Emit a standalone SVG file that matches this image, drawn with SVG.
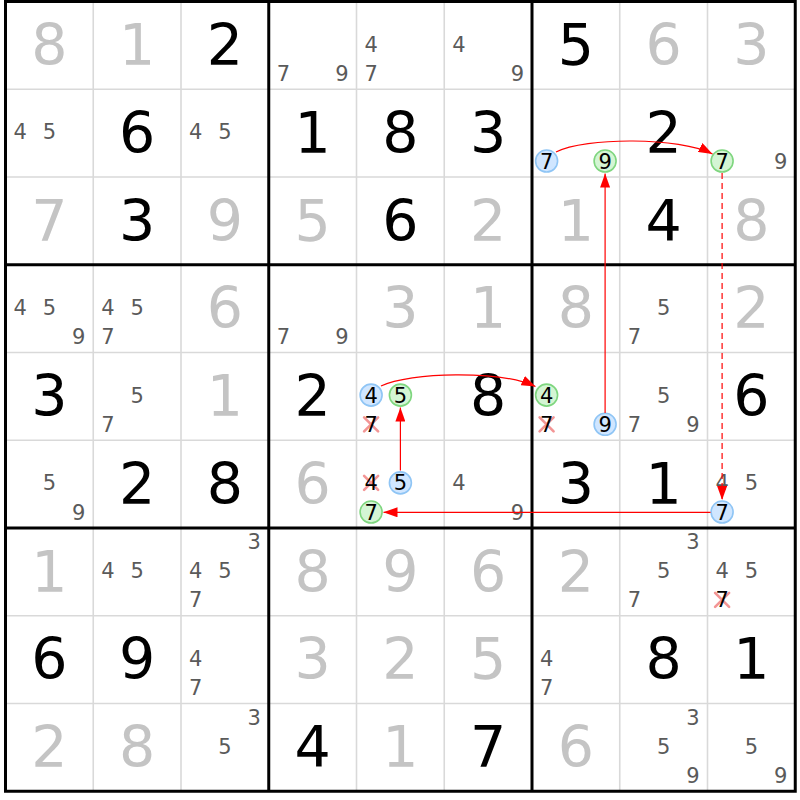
<svg xmlns="http://www.w3.org/2000/svg" width="800" height="800" viewBox="0 0 800 800">
<style>
text{font-family:"DejaVu Sans","Verdana",sans-serif;text-anchor:middle}
.g{font-size:57px;fill:#000}
.s{font-size:57px;fill:#c4c4c4}
.c{font-size:21px;fill:#5a5a5a}
.k{font-size:21px;fill:#000}
.cb{fill:#d0e6ff;stroke:#8fc5f5;stroke-width:1.6}
.cg{fill:#d4f5d4;stroke:#7fd67f;stroke-width:1.6}
.x{stroke:#f28a8a;stroke-width:2.6;stroke-linecap:round;opacity:0.9}
.thin{stroke:#d9d9d9;stroke-width:1.6}
.thick{stroke:#000;stroke-width:3}
.lk{fill:none;stroke:#ff0000;stroke-width:1.2}
.dash{stroke-dasharray:6 4}
</style>
<defs>
<marker id="ah" markerUnits="userSpaceOnUse" markerWidth="14" markerHeight="10" refX="14" refY="5" orient="auto">
<path d="M0,0 L14,5 L0,10 Z" fill="#ff0000"/>
</marker>
<path id="xm" d="M-7,-7 L7,7 M7,-7 L-7,7"/>
</defs>
<rect x="0" y="0" width="800" height="800" fill="#fff"/>
<g id="grid">
<g class="thin">
<line x1="93.25" y1="1.5" x2="93.25" y2="791.25"/>
<line x1="181" y1="1.5" x2="181" y2="791.25"/>
<line x1="356.5" y1="1.5" x2="356.5" y2="791.25"/>
<line x1="444.25" y1="1.5" x2="444.25" y2="791.25"/>
<line x1="619.75" y1="1.5" x2="619.75" y2="791.25"/>
<line x1="707.5" y1="1.5" x2="707.5" y2="791.25"/>
<line x1="5.5" y1="89.25" x2="795.25" y2="89.25"/>
<line x1="5.5" y1="177" x2="795.25" y2="177"/>
<line x1="5.5" y1="352.5" x2="795.25" y2="352.5"/>
<line x1="5.5" y1="440.25" x2="795.25" y2="440.25"/>
<line x1="5.5" y1="615.75" x2="795.25" y2="615.75"/>
<line x1="5.5" y1="703.5" x2="795.25" y2="703.5"/>
</g>
<g class="thick">
<line x1="268.75" y1="1.5" x2="268.75" y2="791.25"/>
<line x1="532" y1="1.5" x2="532" y2="791.25"/>
<line x1="5.5" y1="264.75" x2="795.25" y2="264.75"/>
<line x1="5.5" y1="528" x2="795.25" y2="528"/>
<rect x="5.5" y="1.5" width="789.75" height="789.75" fill="none"/>
</g>
</g>
<g id="cells">
<g id="r1c1"><text class="s" x="49.4" y="65">8</text></g>
<g id="r1c2"><text class="s" x="137.15" y="65">1</text></g>
<g id="r1c3"><text class="g" x="224.9" y="65">2</text></g>
<g id="r1c4"><text class="c" x="283.35" y="80.9">7</text><text class="c" x="341.85" y="80.9">9</text></g>
<g id="r1c5"><text class="c" x="371.1" y="51.7">4</text><text class="c" x="371.1" y="80.9">7</text></g>
<g id="r1c6"><text class="c" x="458.85" y="51.7">4</text><text class="c" x="517.35" y="80.9">9</text></g>
<g id="r1c7"><text class="g" x="575.9" y="65">5</text></g>
<g id="r1c8"><text class="s" x="663.65" y="65">6</text></g>
<g id="r1c9"><text class="s" x="751.4" y="65">3</text></g>

<g id="r2c1"><text class="c" x="20.1" y="139.45">4</text><text class="c" x="49.4" y="139.45">5</text></g>
<g id="r2c2"><text class="g" x="137.15" y="152.75">6</text></g>
<g id="r2c3"><text class="c" x="195.6" y="139.45">4</text><text class="c" x="224.9" y="139.45">5</text></g>
<g id="r2c4"><text class="g" x="312.65" y="152.75">1</text></g>
<g id="r2c5"><text class="g" x="400.4" y="152.75">8</text></g>
<g id="r2c6"><text class="g" x="488.15" y="152.75">3</text></g>
<g id="r2c7"><circle class="cb" cx="546.6" cy="161.05" r="11"/><text class="k" x="546.6" y="168.65">7</text><circle class="cg" cx="605.1" cy="161.05" r="11"/><text class="k" x="605.1" y="168.65">9</text></g>
<g id="r2c8"><text class="g" x="663.65" y="152.75">2</text></g>
<g id="r2c9"><circle class="cg" cx="722.1" cy="161.05" r="11"/><text class="k" x="722.1" y="168.65">7</text><text class="c" x="780.6" y="168.65">9</text></g>

<g id="r3c1"><text class="s" x="49.4" y="240.5">7</text></g>
<g id="r3c2"><text class="g" x="137.15" y="240.5">3</text></g>
<g id="r3c3"><text class="s" x="224.9" y="240.5">9</text></g>
<g id="r3c4"><text class="s" x="312.65" y="240.5">5</text></g>
<g id="r3c5"><text class="g" x="400.4" y="240.5">6</text></g>
<g id="r3c6"><text class="s" x="488.15" y="240.5">2</text></g>
<g id="r3c7"><text class="s" x="575.9" y="240.5">1</text></g>
<g id="r3c8"><text class="g" x="663.65" y="240.5">4</text></g>
<g id="r3c9"><text class="s" x="751.4" y="240.5">8</text></g>

<g id="r4c1"><text class="c" x="20.1" y="314.95">4</text><text class="c" x="49.4" y="314.95">5</text><text class="c" x="78.6" y="344.15">9</text></g>
<g id="r4c2"><text class="c" x="107.85" y="314.95">4</text><text class="c" x="137.15" y="314.95">5</text><text class="c" x="107.85" y="344.15">7</text></g>
<g id="r4c3"><text class="s" x="224.9" y="328.25">6</text></g>
<g id="r4c4"><text class="c" x="283.35" y="344.15">7</text><text class="c" x="341.85" y="344.15">9</text></g>
<g id="r4c5"><text class="s" x="400.4" y="328.25">3</text></g>
<g id="r4c6"><text class="s" x="488.15" y="328.25">1</text></g>
<g id="r4c7"><text class="s" x="575.9" y="328.25">8</text></g>
<g id="r4c8"><text class="c" x="663.65" y="314.95">5</text><text class="c" x="634.35" y="344.15">7</text></g>
<g id="r4c9"><text class="s" x="751.4" y="328.25">2</text></g>

<g id="r5c1"><text class="g" x="49.4" y="416">3</text></g>
<g id="r5c2"><text class="c" x="137.15" y="402.7">5</text><text class="c" x="107.85" y="431.9">7</text></g>
<g id="r5c3"><text class="s" x="224.9" y="416">1</text></g>
<g id="r5c4"><text class="g" x="312.65" y="416">2</text></g>
<g id="r5c5"><circle class="cb" cx="371.1" cy="395.1" r="11"/><text class="k" x="371.1" y="402.7">4</text><circle class="cg" cx="400.4" cy="395.1" r="11"/><text class="k" x="400.4" y="402.7">5</text><use href="#xm" class="x" x="371.1" y="424.3"/><text class="k" x="371.1" y="431.9">7</text></g>
<g id="r5c6"><text class="g" x="488.15" y="416">8</text></g>
<g id="r5c7"><circle class="cg" cx="546.6" cy="395.1" r="11"/><text class="k" x="546.6" y="402.7">4</text><use href="#xm" class="x" x="546.6" y="424.3"/><text class="k" x="546.6" y="431.9">7</text><circle class="cb" cx="605.1" cy="424.3" r="11"/><text class="k" x="605.1" y="431.9">9</text></g>
<g id="r5c8"><text class="c" x="663.65" y="402.7">5</text><text class="c" x="634.35" y="431.9">7</text><text class="c" x="692.85" y="431.9">9</text></g>
<g id="r5c9"><text class="g" x="751.4" y="416">6</text></g>

<g id="r6c1"><text class="c" x="49.4" y="490.45">5</text><text class="c" x="78.6" y="519.65">9</text></g>
<g id="r6c2"><text class="g" x="137.15" y="503.75">2</text></g>
<g id="r6c3"><text class="g" x="224.9" y="503.75">8</text></g>
<g id="r6c4"><text class="s" x="312.65" y="503.75">6</text></g>
<g id="r6c5"><use href="#xm" class="x" x="371.1" y="482.85"/><text class="k" x="371.1" y="490.45">4</text><circle class="cb" cx="400.4" cy="482.85" r="11"/><text class="k" x="400.4" y="490.45">5</text><circle class="cg" cx="371.1" cy="512.05" r="11"/><text class="k" x="371.1" y="519.65">7</text></g>
<g id="r6c6"><text class="c" x="458.85" y="490.45">4</text><text class="c" x="517.35" y="519.65">9</text></g>
<g id="r6c7"><text class="g" x="575.9" y="503.75">3</text></g>
<g id="r6c8"><text class="g" x="663.65" y="503.75">1</text></g>
<g id="r6c9"><text class="c" x="722.1" y="490.45">4</text><text class="c" x="751.4" y="490.45">5</text><circle class="cb" cx="722.1" cy="512.05" r="11"/><text class="k" x="722.1" y="519.65">7</text></g>

<g id="r7c1"><text class="s" x="49.4" y="591.5">1</text></g>
<g id="r7c2"><text class="c" x="107.85" y="578.2">4</text><text class="c" x="137.15" y="578.2">5</text></g>
<g id="r7c3"><text class="c" x="254.1" y="549">3</text><text class="c" x="195.6" y="578.2">4</text><text class="c" x="224.9" y="578.2">5</text><text class="c" x="195.6" y="607.4">7</text></g>
<g id="r7c4"><text class="s" x="312.65" y="591.5">8</text></g>
<g id="r7c5"><text class="s" x="400.4" y="591.5">9</text></g>
<g id="r7c6"><text class="s" x="488.15" y="591.5">6</text></g>
<g id="r7c7"><text class="s" x="575.9" y="591.5">2</text></g>
<g id="r7c8"><text class="c" x="692.85" y="549">3</text><text class="c" x="663.65" y="578.2">5</text><text class="c" x="634.35" y="607.4">7</text></g>
<g id="r7c9"><text class="c" x="722.1" y="578.2">4</text><text class="c" x="751.4" y="578.2">5</text><use href="#xm" class="x" x="722.1" y="599.8"/><text class="k" x="722.1" y="607.4">7</text></g>

<g id="r8c1"><text class="g" x="49.4" y="679.25">6</text></g>
<g id="r8c2"><text class="g" x="137.15" y="679.25">9</text></g>
<g id="r8c3"><text class="c" x="195.6" y="665.95">4</text><text class="c" x="195.6" y="695.15">7</text></g>
<g id="r8c4"><text class="s" x="312.65" y="679.25">3</text></g>
<g id="r8c5"><text class="s" x="400.4" y="679.25">2</text></g>
<g id="r8c6"><text class="s" x="488.15" y="679.25">5</text></g>
<g id="r8c7"><text class="c" x="546.6" y="665.95">4</text><text class="c" x="546.6" y="695.15">7</text></g>
<g id="r8c8"><text class="g" x="663.65" y="679.25">8</text></g>
<g id="r8c9"><text class="g" x="751.4" y="679.25">1</text></g>

<g id="r9c1"><text class="s" x="49.4" y="767">2</text></g>
<g id="r9c2"><text class="s" x="137.15" y="767">8</text></g>
<g id="r9c3"><text class="c" x="254.1" y="724.5">3</text><text class="c" x="224.9" y="753.7">5</text></g>
<g id="r9c4"><text class="g" x="312.65" y="767">4</text></g>
<g id="r9c5"><text class="s" x="400.4" y="767">1</text></g>
<g id="r9c6"><text class="g" x="488.15" y="767">7</text></g>
<g id="r9c7"><text class="s" x="575.9" y="767">6</text></g>
<g id="r9c8"><text class="c" x="692.85" y="724.5">3</text><text class="c" x="663.65" y="753.7">5</text><text class="c" x="692.85" y="782.9">9</text></g>
<g id="r9c9"><text class="c" x="751.4" y="753.7">5</text><text class="c" x="780.6" y="782.9">9</text></g>
</g>
<g id="connectors">
<path class="lk" d="M556 152 C585 137 680 137 712.5 154" marker-end="url(#ah)"/>
<path class="lk" d="M605.1 413 L605.1 173.5" marker-end="url(#ah)"/>
<path class="lk dash" d="M722.1 173 L722.1 500" marker-end="url(#ah)"/>
<path class="lk" d="M710.5 512.3 L383.5 512.3" marker-end="url(#ah)"/>
<path class="lk" d="M400.4 470.5 L400.4 407.5" marker-end="url(#ah)"/>
<path class="lk" d="M381 386 C410 372 500 370 535.5 386.5" marker-end="url(#ah)"/>
</g>
</svg>
